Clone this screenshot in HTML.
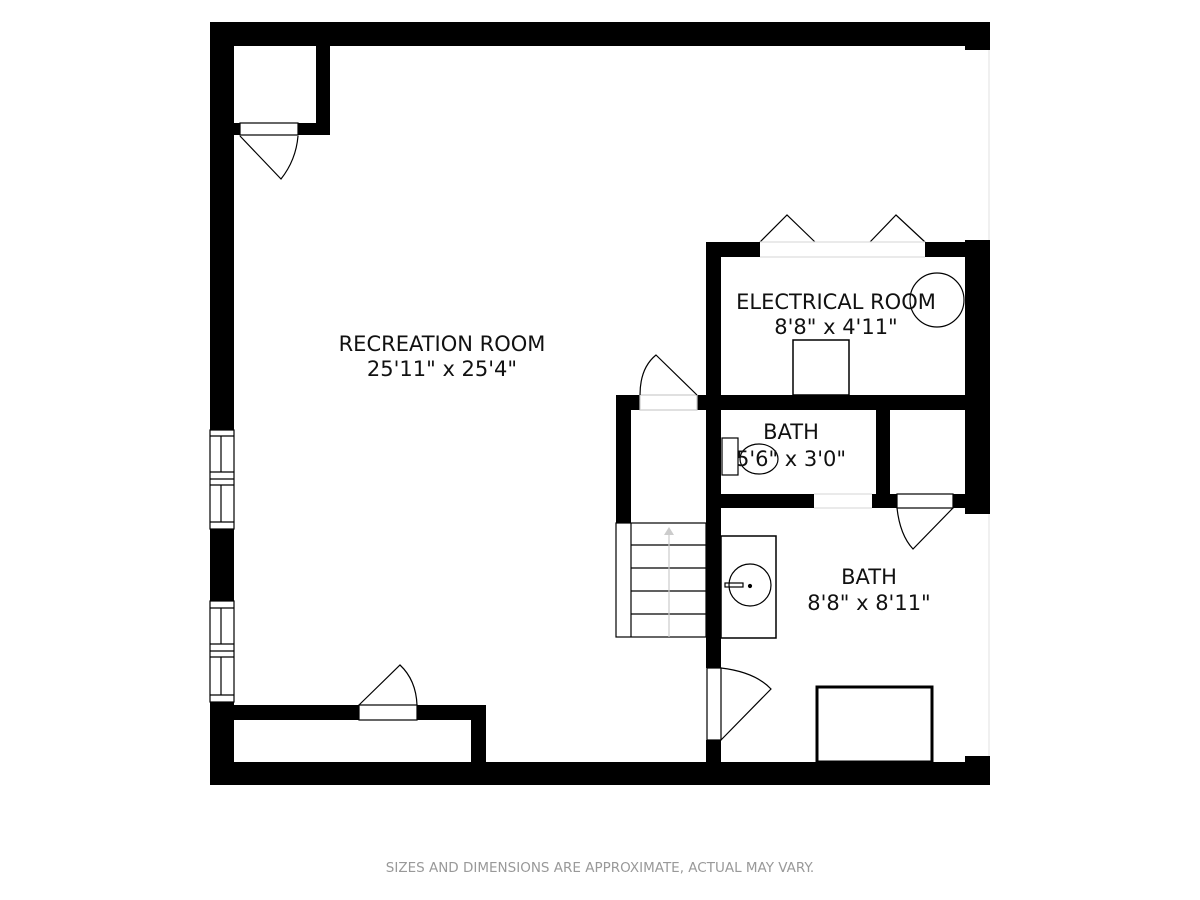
<!DOCTYPE html>
<html><head><meta charset="utf-8"><style>
html,body{margin:0;padding:0;background:#fff;width:1200px;height:900px;overflow:hidden}
svg{display:block}
text{font-family:"DejaVu Sans","Liberation Sans",sans-serif}
</style></head><body>
<svg width="1200" height="900" viewBox="0 0 1200 900" xmlns="http://www.w3.org/2000/svg">
<g fill="#000">
<rect x="210" y="22" width="780" height="24"/>
<rect x="965" y="22" width="25" height="28"/>
<rect x="210" y="22" width="24" height="408"/>
<rect x="210" y="529" width="24" height="72"/>
<rect x="210" y="702" width="24" height="83"/>
<rect x="210" y="762" width="780" height="23"/>
<rect x="965" y="756" width="25" height="29"/>
<rect x="316" y="46" width="14" height="89"/>
<rect x="234" y="123" width="6" height="12"/>
<rect x="298" y="123" width="32" height="12"/>
<rect x="234" y="705" width="125" height="15"/>
<rect x="417" y="705" width="69" height="15"/>
<rect x="471" y="705" width="15" height="57"/>
<rect x="706" y="242" width="15" height="426"/>
<rect x="706" y="740" width="15" height="45"/>
<rect x="706" y="242" width="54" height="15"/>
<rect x="925" y="242" width="40" height="15"/>
<rect x="965" y="240" width="25" height="274"/>
<rect x="616" y="395" width="349" height="15"/>
<rect x="640" y="395" width="57" height="15" fill="#fff"/>
<rect x="616" y="395" width="15" height="128"/>
<rect x="876" y="410" width="14" height="98"/>
<rect x="706" y="494" width="108" height="14"/>
<rect x="872" y="494" width="25" height="14"/>
<rect x="953" y="494" width="12" height="14"/>
</g>
<g fill="none" stroke="#000" stroke-width="1.2">
<rect x="240" y="123" width="58" height="12" fill="#fff"/>
<path d="M240 136 L281 179 Q296 160 298 136"/>
<rect x="359" y="705" width="58" height="15" fill="#fff"/>
<path d="M359 705 L400 665 Q416 680 417 705"/>
<rect x="640" y="395" width="57" height="15" stroke="#ccc"/>
<path d="M640 395 Q640 368 656 355 L697 395"/>
<path d="M760 242 L787 215 L815 242 M870 242 L896 215 L925 242"/>
<line x1="760" y1="242" x2="925" y2="242" stroke="#ddd"/>
<line x1="760" y1="257" x2="925" y2="257" stroke="#ddd"/>
<line x1="814" y1="494" x2="872" y2="494" stroke="#ddd"/>
<line x1="814" y1="508" x2="872" y2="508" stroke="#ddd"/>
<rect x="897" y="494" width="56" height="14"/>
<path d="M897 508 Q900 535 913 549 L953 508"/>
<rect x="707" y="668" width="14" height="72"/>
<path d="M721 668 Q755 672 771 689 L721 740"/>
<rect x="210" y="430" width="24" height="99"/>
<line x1="210" y1="436" x2="234" y2="436"/><line x1="210" y1="472" x2="234" y2="472"/><line x1="210" y1="479" x2="234" y2="479"/><line x1="210" y1="485" x2="234" y2="485"/><line x1="210" y1="522" x2="234" y2="522"/>
<line x1="221" y1="436" x2="221" y2="472"/><line x1="221" y1="485" x2="221" y2="522"/>
<rect x="210" y="601" width="24" height="101"/>
<line x1="210" y1="608" x2="234" y2="608"/><line x1="210" y1="644" x2="234" y2="644"/><line x1="210" y1="651" x2="234" y2="651"/><line x1="210" y1="657" x2="234" y2="657"/><line x1="210" y1="695" x2="234" y2="695"/>
<line x1="221" y1="608" x2="221" y2="644"/><line x1="221" y1="657" x2="221" y2="695"/>
<circle cx="937" cy="300" r="27"/>
<rect x="793" y="340" width="56" height="55" stroke-width="1.5"/>
<rect x="722" y="438" width="16" height="37" fill="#fff"/>
<ellipse cx="759" cy="459" rx="19" ry="15"/>
<rect x="616" y="523" width="90" height="114"/>
<line x1="631" y1="523" x2="631" y2="637"/>
<line x1="631" y1="545" x2="706" y2="545"/><line x1="631" y1="568" x2="706" y2="568"/><line x1="631" y1="591" x2="706" y2="591"/><line x1="631" y1="614" x2="706" y2="614"/>
<line x1="669" y1="637" x2="669" y2="532" stroke="#ccc"/>
<rect x="721" y="536" width="55" height="102" stroke-width="1.5"/>
<circle cx="750" cy="585" r="21"/>
<rect x="725" y="583" width="18" height="4"/>
<circle cx="750" cy="586" r="1.5" fill="#000"/>
<rect x="817" y="687" width="115" height="75" stroke-width="3"/>
<line x1="989" y1="50" x2="989" y2="240" stroke="#e6e6e6"/>
<line x1="989" y1="514" x2="989" y2="756" stroke="#e6e6e6"/>
</g>
<polygon points="669,527 664,535 674,535" fill="#ccc"/>
<g font-size="21" text-anchor="middle" fill="#111">
<text x="442" y="351">RECREATION ROOM</text>
<text x="442" y="376">25'11" x 25'4"</text>
<text x="836" y="309">ELECTRICAL ROOM</text>
<text x="836" y="334">8'8" x 4'11"</text>
<text x="791" y="439">BATH</text>
<text x="791" y="466">5'6" x 3'0"</text>
<text x="869" y="584">BATH</text>
<text x="869" y="610">8'8" x 8'11"</text>
</g>
<text x="600" y="872" font-size="13.5" text-anchor="middle" fill="#999">SIZES AND DIMENSIONS ARE APPROXIMATE, ACTUAL MAY VARY.</text>
</svg>
</body></html>
